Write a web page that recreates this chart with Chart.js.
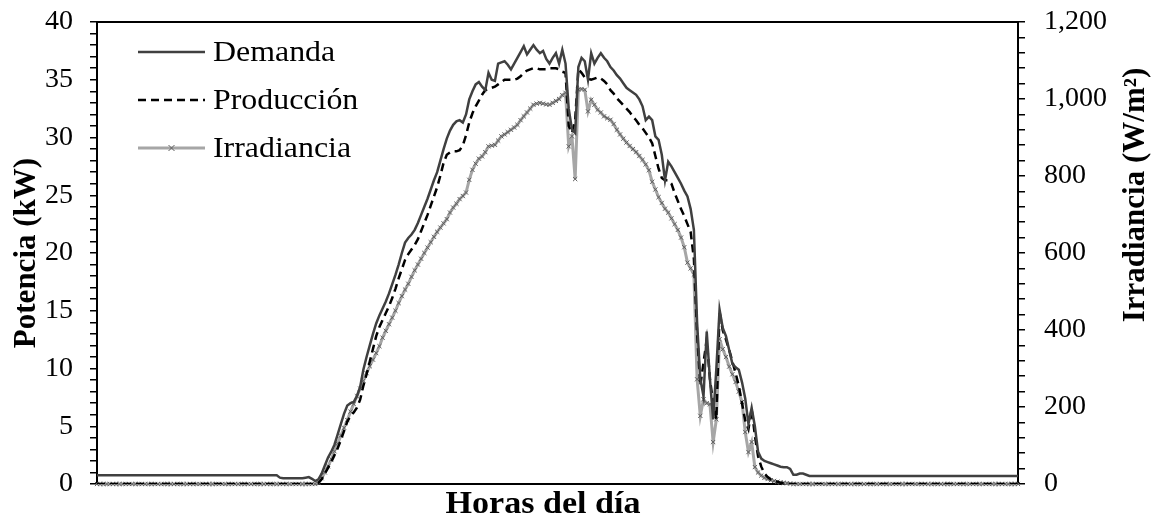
<!DOCTYPE html>
<html>
<head>
<meta charset="utf-8">
<script src="https://cdn.jsdelivr.net/npm/chart.js@4.4.1/dist/chart.umd.min.js"></script>
<style>
  html, body { margin: 0; padding: 0; background: #fff; }
  #wrap { width: 1156px; height: 521px; position: relative; }
</style>
</head>
<body>
<div id="wrap"><canvas id="perfilChart"></canvas></div>
<script>
// one sample every 5 minutes, 00:00 to 23:55
const horas = [];
for (let m = 0; m < 24 * 60; m += 5) {
    horas.push(String(Math.floor(m / 60)).padStart(2, '0') + ':' + String(m % 60).padStart(2, '0'));
}

// Demanda (kW)
const demanda = [
    0.75, 0.75, 0.75, 0.75, 0.75, 0.75, 0.75, 0.75, 0.75, 0.75,
    0.75, 0.75, 0.75, 0.75, 0.75, 0.75, 0.75, 0.75, 0.75, 0.75,
    0.75, 0.75, 0.75, 0.75, 0.75, 0.75, 0.75, 0.75, 0.75, 0.75,
    0.75, 0.75, 0.75, 0.75, 0.75, 0.75, 0.75, 0.75, 0.75, 0.75,
    0.75, 0.75, 0.75, 0.75, 0.75, 0.75, 0.75, 0.75, 0.75, 0.75,
    0.75, 0.75, 0.75, 0.75, 0.75, 0.75, 0.75, 0.55, 0.5, 0.5,
    0.5, 0.5, 0.5, 0.5, 0.5, 0.55, 0.6, 0.45, 0.25, 0.4,
    0.9, 1.6, 2.3, 2.8, 3.4, 4.3, 5.2, 6.1, 6.8, 7.0,
    7.1, 7.6, 8.4, 9.9, 11.0, 12.0, 13.0, 13.9, 14.6, 15.2,
    15.8, 16.5, 17.3, 18.1, 19.0, 20.0, 20.9, 21.3, 21.6, 22.0,
    22.6, 23.3, 24.0, 24.7, 25.5, 26.3, 27.0, 28.0, 29.0, 29.9,
    30.6, 31.1, 31.4, 31.5, 31.3, 32.0, 33.3, 34.0, 34.6, 34.8,
    34.4, 34.1, 35.6, 35.0, 34.9, 36.4, 36.5, 36.6, 36.3, 35.9,
    36.4, 36.9, 37.4, 37.9, 37.2, 37.6, 38.0, 37.6, 37.3, 37.5,
    36.8, 36.4, 36.9, 37.3, 36.4, 37.6, 36.4, 32.5, 30.7, 30.4,
    36.1, 36.9, 36.6, 35.0, 37.3, 36.4, 36.9, 37.3, 36.9, 36.6,
    36.1, 35.8, 35.4, 35.1, 34.7, 34.3, 34.1, 33.9, 33.7, 33.3,
    32.7, 31.5, 31.8, 31.5, 30.1, 29.8, 28.5, 26.3, 27.9, 27.5,
    27.0, 26.5, 26.0, 25.4, 24.9, 23.8, 22.0, 14.0, 9.1, 7.6,
    13.2, 9.1, 5.6, 10.0, 15.1, 13.5, 12.8, 11.6, 10.4, 10.1,
    9.9, 8.8, 7.4, 5.2, 6.6, 5.0, 2.8, 2.2, 2.0, 1.9,
    1.8, 1.7, 1.6, 1.5, 1.45, 1.45, 1.3, 0.8, 0.8, 0.9,
    0.9, 0.8, 0.7, 0.7, 0.7, 0.7, 0.7, 0.7, 0.7, 0.7,
    0.7, 0.7, 0.7, 0.7, 0.7, 0.7, 0.7, 0.7, 0.7, 0.7,
    0.7, 0.7, 0.7, 0.7, 0.7, 0.7, 0.7, 0.7, 0.7, 0.7,
    0.7, 0.7, 0.7, 0.7, 0.7, 0.7, 0.7, 0.7, 0.7, 0.7,
    0.7, 0.7, 0.7, 0.7, 0.7, 0.7, 0.7, 0.7, 0.7, 0.7,
    0.7, 0.7, 0.7, 0.7, 0.7, 0.7, 0.7, 0.7, 0.7, 0.7,
    0.7, 0.7, 0.7, 0.7, 0.7, 0.7, 0.7, 0.7
];

// Producción (kW)
const produccion = [
    0, 0, 0, 0, 0, 0, 0, 0, 0, 0,
    0, 0, 0, 0, 0, 0, 0, 0, 0, 0,
    0, 0, 0, 0, 0, 0, 0, 0, 0, 0,
    0, 0, 0, 0, 0, 0, 0, 0, 0, 0,
    0, 0, 0, 0, 0, 0, 0, 0, 0, 0,
    0, 0, 0, 0, 0, 0, 0, 0, 0, 0,
    0, 0, 0, 0, 0, 0, 0, 0, 0, 0.1,
    0.4, 0.9, 1.4, 1.9, 2.5, 3.1, 3.8, 4.6, 5.4, 5.9,
    6.2, 6.6, 7.3, 8.5, 9.5, 10.6, 11.7, 12.8, 13.6, 14.2,
    14.8, 15.4, 16.1, 16.9, 17.8, 18.6, 19.4, 19.9, 20.3, 20.7,
    21.2, 21.9, 22.6, 23.3, 24.1, 24.9, 25.7, 26.7, 27.8, 28.5,
    28.7, 28.8, 28.8, 28.9, 29.3, 30.2, 31.3, 32.1, 32.7, 33.2,
    33.7, 34.1, 34.2, 34.3, 34.4, 34.6, 34.8, 35.0, 35.0, 35.0,
    35.0, 35.1, 35.3, 35.6, 35.8, 35.9, 36.0, 36.0, 35.9, 35.9,
    35.9, 36.0, 36.0, 36.0, 35.9, 35.7, 35.6, 31.0, 30.4, 31.5,
    35.9, 35.6, 35.2, 35.1, 35.0, 35.1, 35.2, 35.1, 34.9, 34.6,
    34.1, 33.8, 33.4, 33.1, 32.8, 32.5, 32.2, 31.8, 31.5, 31.1,
    30.8, 30.4, 30.0, 29.5, 28.4, 27.3, 26.5, 26.3, 26.3, 26.0,
    25.2, 24.5, 23.8, 23.2, 22.5, 21.8, 19.5, 13.0, 8.5, 10.5,
    12.5, 9.1, 7.0, 5.6, 14.9, 13.3, 12.5, 11.6, 10.6, 9.6,
    8.5, 7.0, 5.5, 4.75, 6.5, 4.2, 2.4, 1.5, 0.9, 0.6,
    0.4, 0.3, 0.2, 0.1, 0.05, 0, 0, 0, 0, 0,
    0, 0, 0, 0, 0, 0, 0, 0, 0, 0,
    0, 0, 0, 0, 0, 0, 0, 0, 0, 0,
    0, 0, 0, 0, 0, 0, 0, 0, 0, 0,
    0, 0, 0, 0, 0, 0, 0, 0, 0, 0,
    0, 0, 0, 0, 0, 0, 0, 0, 0, 0,
    0, 0, 0, 0, 0, 0, 0, 0, 0, 0,
    0, 0, 0, 0, 0, 0, 0, 0
];

// Irradiancia (W/m²)
const irradiancia = [
    0, 0, 0, 0, 0, 0, 0, 0, 0, 0,
    0, 0, 0, 0, 0, 0, 0, 0, 0, 0,
    0, 0, 0, 0, 0, 0, 0, 0, 0, 0,
    0, 0, 0, 0, 0, 0, 0, 0, 0, 0,
    0, 0, 0, 0, 0, 0, 0, 0, 0, 0,
    0, 0, 0, 0, 0, 0, 0, 0, 0, 0,
    0, 0, 0, 0, 0, 0, 0, 0, 0, 3,
    15, 30, 46, 64, 85, 105, 126, 146, 166, 188,
    208, 228, 248, 268, 288, 306, 323, 340, 358, 380,
    398, 415, 432, 450, 470, 488, 505, 520, 538, 555,
    570, 585, 600, 614, 628, 642, 655, 666, 677, 688,
    705, 718, 728, 740, 748, 757, 790, 816, 832, 845,
    851, 862, 877, 879, 881, 892, 903, 908, 914, 920,
    926, 933, 945, 955, 965, 975, 985, 988, 990, 988,
    986, 985, 990, 995, 1000, 1010, 1016, 877, 903, 792,
    1024, 1026, 1024, 968, 998, 985, 972, 965, 955, 950,
    946, 935, 920, 908, 897, 887, 878, 870, 862, 852,
    842, 830, 815, 785, 765, 745, 730, 715, 705, 690,
    675, 660, 640, 615, 575, 560, 544, 272, 177, 220,
    210, 207, 109, 168, 376, 350, 330, 305, 285, 265,
    240, 213, 135, 83, 109, 44, 30, 22, 16, 13,
    10, 8, 6, 4, 3, 2, 1, 0, 0, 0,
    0, 0, 0, 0, 0, 0, 0, 0, 0, 0,
    0, 0, 0, 0, 0, 0, 0, 0, 0, 0,
    0, 0, 0, 0, 0, 0, 0, 0, 0, 0,
    0, 0, 0, 0, 0, 0, 0, 0, 0, 0,
    0, 0, 0, 0, 0, 0, 0, 0, 0, 0,
    0, 0, 0, 0, 0, 0, 0, 0, 0, 0,
    0, 0, 0, 0, 0, 0, 0, 0
];

const SERIF = '"Liberation Serif", "Times New Roman", serif';

// text a little wider than the font, as in the original figure
function wideText(ctx, text, x, y, stretch) {
    ctx.save();
    ctx.translate(x, y);
    ctx.scale(stretch, 1);
    ctx.fillText(text, 0, 0);
    ctx.restore();
}

// legend drawn inside the plot, top left
const legendInside = {
    id: 'legendInside',
    afterDatasetsDraw(chart) {
        const ctx = chart.ctx;
        const x0 = 138, x1 = 205;
        const rows = [52, 100, 148];
        chart.data.datasets.forEach((ds, i) => {
            const y = rows[i];
            ctx.save();
            ctx.strokeStyle = ds.borderColor;
            ctx.lineWidth = ds.borderWidth;
            ctx.setLineDash(ds.borderDash || []);
            ctx.beginPath();
            ctx.moveTo(x0, y);
            ctx.lineTo(x1, y);
            ctx.stroke();
            if (ds.pointRadius > 0) {
                const cx = (x0 + x1) / 2, r = ds.pointRadius;
                ctx.setLineDash([]);
                ctx.strokeStyle = ds.pointBorderColor;
                ctx.lineWidth = ds.pointBorderWidth;
                ctx.beginPath();
                ctx.moveTo(cx - r, y - r); ctx.lineTo(cx + r, y + r);
                ctx.moveTo(cx - r, y + r); ctx.lineTo(cx + r, y - r);
                ctx.stroke();
            }
            ctx.fillStyle = '#000';
            ctx.font = '29px ' + SERIF;
            ctx.textAlign = 'left';
            ctx.textBaseline = 'middle';
            wideText(ctx, ds.label, 213, y + 1, 1.1);
            ctx.restore();
        });
    }
};

// top frame line, x title and right axis title (reads bottom to top)
const frameAndTitles = {
    id: 'frameAndTitles',
    afterDraw(chart) {
        const ctx = chart.ctx;
        const area = chart.chartArea;
        ctx.save();
        ctx.strokeStyle = '#000';
        ctx.lineWidth = 2;
        ctx.beginPath();
        ctx.moveTo(area.left - 1, area.top);
        ctx.lineTo(area.right + 1, area.top);
        ctx.stroke();

        ctx.fillStyle = '#000';
        ctx.font = 'bold 31px ' + SERIF;
        ctx.textAlign = 'center';
        ctx.textBaseline = 'middle';
        wideText(ctx, 'Horas del día', 543, 505, 1.1);

        ctx.translate(1136, 195);
        ctx.rotate(-Math.PI / 2);
        ctx.fillText('Irradiancia (W/m²)', 0, 0);
        ctx.restore();
    }
};

function fixVertical(width) {
    return function(scale) {
        scale.width = width;
        scale.paddingTop = 0;
        scale.paddingBottom = 0;
    };
}

const ctx = document.getElementById('perfilChart').getContext('2d');
new Chart(ctx, {
    type: 'line',
    data: {
        labels: horas,
        datasets: [{
            label: 'Demanda',
            data: demanda,
            yAxisID: 'y',
            borderColor: '#404040',
            borderWidth: 2.5,
            pointRadius: 0,
            tension: 0
        }, {
            label: 'Producción',
            data: produccion,
            yAxisID: 'y',
            borderColor: '#000000',
            borderWidth: 2.5,
            borderDash: [8, 5],
            pointRadius: 0,
            tension: 0
        }, {
            label: 'Irradiancia',
            data: irradiancia,
            yAxisID: 'y1',
            borderColor: '#a6a6a6',
            borderWidth: 3,
            pointStyle: 'crossRot',
            pointRadius: 3,
            pointBorderColor: '#5f5f5f',
            pointBorderWidth: 1,
            pointBackgroundColor: '#5f5f5f',
            tension: 0,
            clip: false
        }]
    },
    options: {
        responsive: true,
        maintainAspectRatio: false,
        animation: false,
        layout: {
            padding: { top: 22, left: 0, right: 0, bottom: 0 }
        },
        plugins: {
            legend: { display: false },
            tooltip: { enabled: false }
        },
        scales: {
            x: {
                grid: { display: false },
                border: { display: true, color: '#000', width: 2 },
                ticks: { display: false },
                title: { display: false },
                afterFit: function(scale) {
                    scale.height = 37;
                    scale.paddingLeft = 0;
                    scale.paddingRight = 0;
                }
            },
            y: {
                position: 'left',
                min: 0,
                max: 40,
                grid: { drawOnChartArea: false, drawTicks: true, tickLength: 7, color: '#000', lineWidth: 1.5 },
                border: { display: true, color: '#000', width: 2 },
                ticks: {
                    stepSize: 1,
                    autoSkip: false,
                    padding: 17,
                    color: '#000',
                    font: { family: SERIF, size: 28 },
                    callback: function(value) {
                        return value % 5 === 0 ? value : '';
                    }
                },
                title: {
                    display: true,
                    text: 'Potencia (kW)',
                    color: '#000',
                    font: { family: SERIF, size: 31, weight: 'bold', lineHeight: 1 },
                    padding: { top: 11, bottom: 0 }
                },
                afterFit: fixVertical(97)
            },
            y1: {
                position: 'right',
                min: 0,
                max: 1200,
                grid: { drawOnChartArea: false, drawTicks: true, tickLength: 7, color: '#000', lineWidth: 1.5 },
                border: { display: true, color: '#000', width: 2 },
                ticks: {
                    stepSize: 40,
                    autoSkip: false,
                    padding: 19,
                    color: '#000',
                    font: { family: SERIF, size: 28 },
                    callback: function(value) {
                        return value % 200 === 0 ? value.toLocaleString('en-US') : '';
                    }
                },
                afterFit: fixVertical(138)
            }
        }
    },
    plugins: [legendInside, frameAndTitles]
});
</script>
</body>
</html>
